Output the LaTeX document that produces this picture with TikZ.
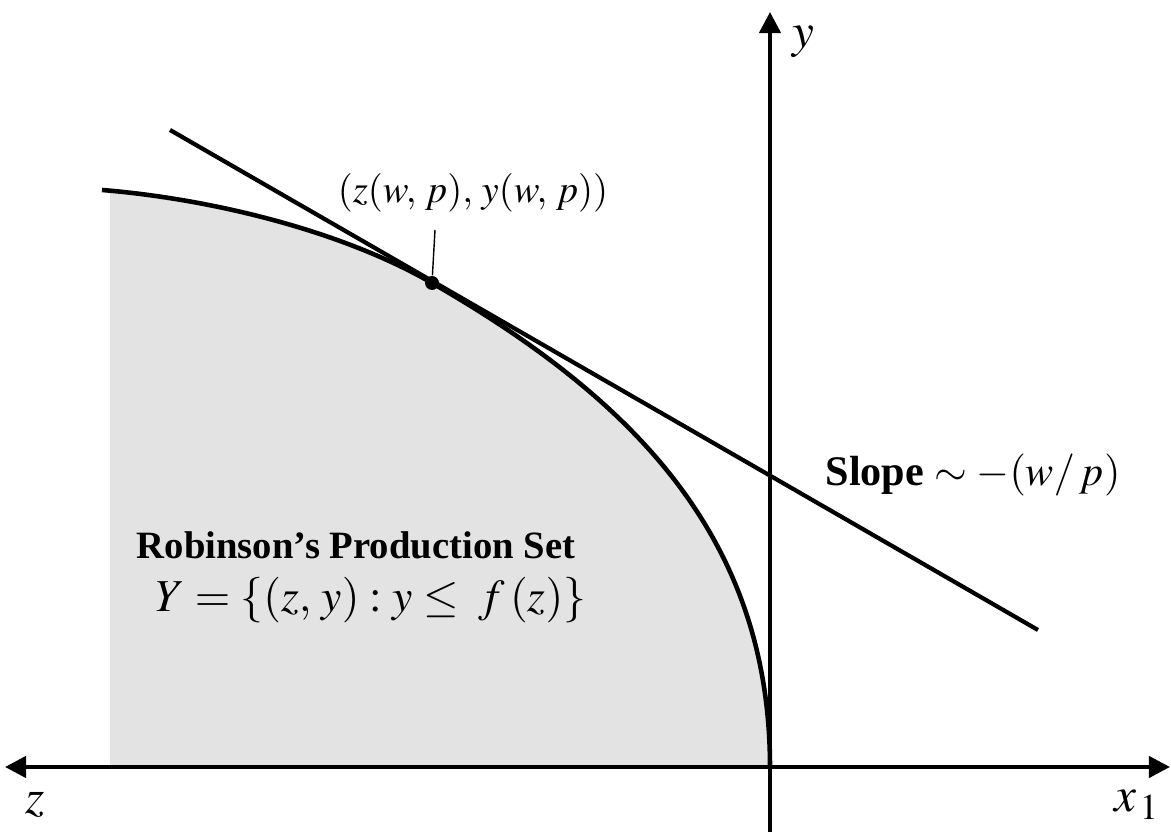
\documentclass[tikz,border=0pt]{standalone}
\usepackage{mathptmx}
\usepackage[no-math]{fontspec}
\setmainfont{Liberation Serif}
\usetikzlibrary{arrows.meta}
\definecolor{setfill}{HTML}{E3E3E3}

\begin{document}
\begin{tikzpicture}[
	>={Triangle[length=6pt, width=6pt]},
	axis/.style={line width=1.2pt},
	frontier/.style={line width=1.3pt},
	tangent/.style={line width=1.2pt},
	labeltext/.style={text=black, font=\fontsize{12}{14}\selectfont},
	header/.style={font=\bfseries\fontsize{11}{13}\selectfont},
	optpoint/.style={circle, fill=black, inner sep=0pt, minimum size=1.4mm}
	]
	
	\useasboundingbox (0,0) rectangle (11.71,8.32);
	
	% ==========================================
	% PRODUCTION SET Y (shaded region)
	% ==========================================
	
	\fill[setfill] (1.10,0.65) -- (1.10,6.42) -- (1.02,6.42)
	.. controls (2.12,6.33) and (3.42,6.01) .. (4.32,5.49)
	.. controls (6.32,4.34) and (7.70,2.95) .. (7.70,0.65) -- cycle;
	
	% ==========================================
	% AXES
	% ==========================================
	
	\coordinate (zend) at (0.05,0.65);
	\coordinate (xend) at (11.70,0.65);
	\coordinate (ybot) at (7.70,0);
	\coordinate (ytop) at (7.70,8.20);
	
	\draw[axis, <->] (zend) -- (xend);
	\draw[axis, ->] (ybot) -- (ytop);
	
	\node[labeltext, font=\fontsize{14}{16}\selectfont] (zlab) at (0.35,0.27) {$z$};
	\node[labeltext, font=\fontsize{14}{16}\selectfont] (xlab) at (11.37,0.27) {$x_{\,1}$};
	\node[labeltext, font=\fontsize{14}{16}\selectfont] (ylab) at (8.03,7.90) {$y$};
	
	% ==========================================
	% FRONTIER y = f(z) AND TANGENT LINE
	% ==========================================
	
	% Boundary of the production set (touches the line at the optimum)
	\coordinate (fstart) at (1.02,6.42);
	\coordinate (fend) at (7.70,0.65);
	\draw[frontier] (fstart) .. controls (2.12,6.33) and (3.42,6.01) .. (4.32,5.49)
	.. controls (6.32,4.34) and (7.70,2.95) .. (fend);
	
	% Isoprofit line touching the frontier
	\coordinate (tanA) at (1.70,7.02);
	\coordinate (tanB) at (10.38,2.02);
	\draw[tangent] (tanA) -- (tanB);
	
	% Profit maximising choice
	\node[optpoint] (opt) at (4.32,5.49) {};
	\node[labeltext, font=\fontsize{11}{13}\selectfont] (optlab) at (4.73,6.39) {$(z(w,\, p),\, y(w,\, p))$};
	\coordinate (leadtop) at (4.35,6.02);
	\draw[thin] (opt) -- (leadtop);
	
	% ==========================================
	% LABELS
	% ==========================================
	
	\node[labeltext] (slope) at (9.73,3.57) {{\bfseries Slope} $\sim -(w/\,p)$};
	\node[header] (setname) at (3.56,2.87) {Robinson’s Production Set};
	\node[labeltext, font=\fontsize{13}{15}\selectfont] (setdef) at (3.71,2.32) {$Y = \{(z,\, y) : y \leq\; f\,(z)\}$};
\end{tikzpicture}
\end{document}
